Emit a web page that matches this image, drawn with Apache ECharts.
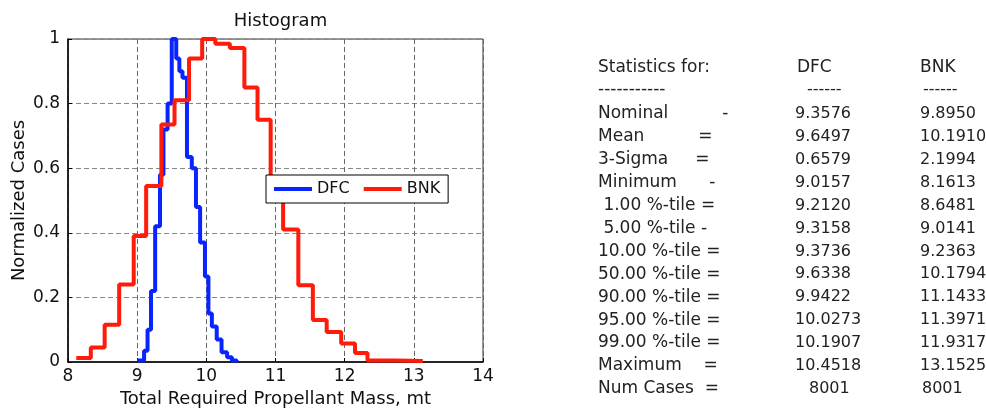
<!DOCTYPE html>
<html><head><meta charset="utf-8">
<script src="https://cdn.jsdelivr.net/npm/echarts@6/dist/echarts.min.js"></script>
<style>html,body{margin:0;padding:0;background:#fff}#c{width:986px;height:415px}</style>
</head><body><div id="c"></div>
<script>
// Histogram step data (mass where the step starts, normalized count held until next step)
const dfcMass  = [9.00, 9.10, 9.15, 9.20, 9.26, 9.33, 9.38, 9.44, 9.50, 9.565, 9.61, 9.655, 9.72, 9.79, 9.85, 9.91, 9.98, 10.03, 10.08, 10.15, 10.22, 10.30, 10.37, 10.44];
const dfcCases = [0.005, 0.035, 0.10, 0.22, 0.42, 0.58, 0.72, 0.80, 1.00, 0.94, 0.90, 0.88, 0.635, 0.60, 0.48, 0.37, 0.265, 0.15, 0.11, 0.07, 0.03, 0.015, 0.005, 0.0];
const bnkMass  = [8.12, 8.33, 8.53, 8.74, 8.95, 9.13, 9.35, 9.54, 9.75, 9.94, 10.13, 10.34, 10.55, 10.74, 10.93, 11.11, 11.33, 11.54, 11.74, 11.95, 12.15, 12.33, 12.74, 13.13];
const bnkCases = [0.012, 0.045, 0.115, 0.24, 0.39, 0.545, 0.735, 0.81, 0.94, 1.00, 0.985, 0.972, 0.85, 0.75, 0.53, 0.41, 0.238, 0.13, 0.093, 0.057, 0.028, 0.005, 0.003, 0.003];

const seriesNames = ['DFC', 'BNK'];
const xTicks = [8, 14, 1];      // min, max, interval
const yTicks = [0, 1, 0.2];

// Statistics table
const statHeader = ['Statistics for:', 'DFC', 'BNK'];
const statRule   = ['-----------', '------', '------'];
const statLabels = ['Nominal          -', 'Mean          =', '3-Sigma     =', 'Minimum      -',
  ' 1.00 %-tile =', ' 5.00 %-tile -', '10.00 %-tile =', '50.00 %-tile =', '90.00 %-tile =',
  '95.00 %-tile =', '99.00 %-tile =', 'Maximum    =', 'Num Cases  ='];
const dfcStats = ['9.3576', '9.6497', '0.6579', '9.0157', '9.2120', '9.3158', '9.3736', '9.6338', '9.9422', '10.0273', '10.1907', '10.4518', '8001'];
const bnkStats = ['9.8950', '10.1910', '2.1994', '8.1613', '8.6481', '9.0141', '9.2363', '10.1794', '11.1433', '11.3971', '11.9317', '13.1525', '8001'];

const FONT = 'DejaVu Sans';
const chart = echarts.init(document.getElementById('c'), null, {renderer: 'canvas'});

const tableEls = [];
const tx = {lab: 598, dfc: 795, bnk: 920};
function txt(x, y, s, size) {
  tableEls.push({type: 'text', x: x, y: y, style: {text: s, fill: '#222', font: (size || 17) + 'px "' + FONT + '"', verticalAlign: 'middle', align: 'left'}});
}
txt(tx.lab, 68, statHeader[0]); txt(tx.dfc + 2, 68, statHeader[1]); txt(tx.bnk, 68, statHeader[2]);
txt(tx.lab, 90, statRule[0]); txt(tx.dfc + 12, 90, statRule[1], 16); txt(tx.bnk + 3, 90, statRule[2], 16);
statLabels.forEach((l, i) => {
  const y = 114 + 22.9 * i;
  txt(tx.lab, y, l);
  const isInt = dfcStats[i].indexOf('.') < 0;
  txt(tx.dfc + (isInt ? 14 : 0), y, dfcStats[i], 16);
  txt(tx.bnk + (isInt ? 2 : 0), y, bnkStats[i], 16);
});

const gridLeft = 68, gridRight = 986 - 483, gridTop = 39, gridBottom = 415 - 362;

chart.setOption({
  animation: false,
  backgroundColor: '#fff',
  textStyle: {fontFamily: FONT, color: '#000'},
  title: {
    text: 'Histogram', left: (gridLeft + 483) / 2, top: 7, textAlign: 'center',
    textStyle: {fontFamily: FONT, fontSize: 18, fontWeight: 'normal', color: '#111'}
  },
  legend: {
    data: seriesNames.map(n => ({name: n, icon: 'rect'})),
    left: 266, top: 175, orient: 'horizontal',
    itemWidth: 38, itemHeight: 4, itemGap: 14,
    padding: [6, 8], backgroundColor: '#fff', borderColor: '#000', borderWidth: 1, borderRadius: 0,
    textStyle: {fontFamily: FONT, fontSize: 16, color: '#111', lineHeight: 16}
  },
  grid: {left: gridLeft, right: gridRight, top: gridTop, bottom: gridBottom, show: true, borderColor: '#333', borderWidth: 1, backgroundColor: 'transparent'},
  xAxis: {
    type: 'value', min: xTicks[0], max: xTicks[1], interval: xTicks[2],
    name: 'Total Required Propellant Mass, mt', nameLocation: 'middle', nameGap: 28,
    nameTextStyle: {fontFamily: FONT, fontSize: 18, color: '#111'},
    axisLine: {show: true, onZero: false, lineStyle: {color: '#000', width: 1.5}},
    axisTick: {show: true, inside: true, length: 4, lineStyle: {color: '#000'}},
    axisLabel: {fontFamily: FONT, fontSize: 17, color: '#111', margin: 6},
    splitLine: {show: true, lineStyle: {color: '#666', type: [5, 3], width: 1}}
  },
  yAxis: {
    type: 'value', min: yTicks[0], max: yTicks[1], interval: yTicks[2],
    name: 'Normalized Cases', nameLocation: 'middle', nameGap: 40,
    nameTextStyle: {fontFamily: FONT, fontSize: 18, color: '#111'},
    axisLine: {show: true, lineStyle: {color: '#000', width: 1.5}},
    axisTick: {show: true, inside: true, length: 4, lineStyle: {color: '#000'}},
    axisLabel: {fontFamily: FONT, fontSize: 17, color: '#111', margin: 8},
    splitLine: {show: true, lineStyle: {color: '#888', type: [5, 3], width: 1}}
  },
  series: [
    {name: seriesNames[0], type: 'line', step: 'end', symbol: 'none', clip: false,
     data: dfcMass.map((x, i) => [x, dfcCases[i]]),
     lineStyle: {color: '#0a24ff', width: 4}, itemStyle: {color: '#0a24ff'}},
    {name: seriesNames[1], type: 'line', step: 'end', symbol: 'none', clip: false,
     data: bnkMass.map((x, i) => [x, bnkCases[i]]),
     lineStyle: {color: '#ff1a0a', width: 4}, itemStyle: {color: '#ff1a0a'}}
  ],
  graphic: tableEls
});
</script></body></html>
